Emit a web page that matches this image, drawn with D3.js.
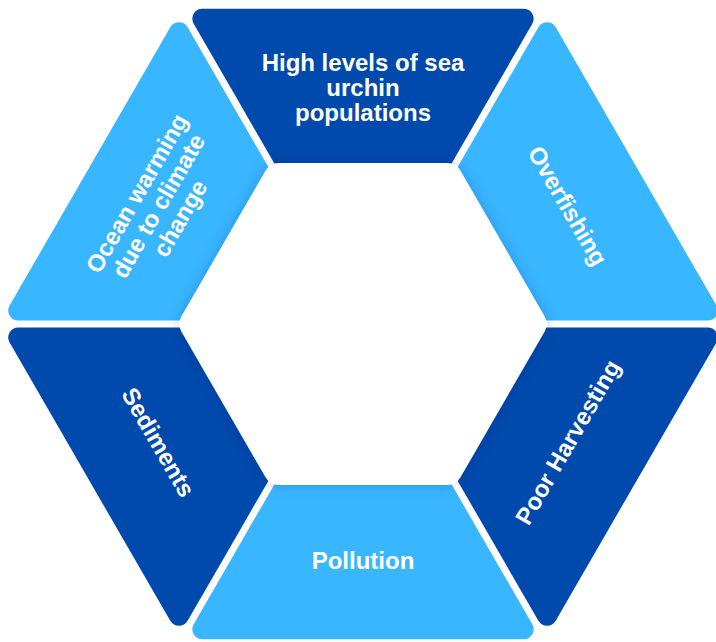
<!DOCTYPE html>
<html>
<head>
<meta charset="utf-8">
<style>
  body {
    margin: 0;
    background: #fff;
    font-family: "Liberation Sans", Arial, Helvetica, sans-serif;
  }
  .label {
    fill: #fff;
    font-size: 24px;
    font-weight: bold;
    text-anchor: middle;
  }
</style>
</head>
<body>
<script src="https://d3js.org/d3.v7.min.js"></script>
<script>

  // segments, clockwise from the top
  var labels = [
    ["High levels of sea", "urchin", "populations"],
    ["Overfishing"],
    ["Poor Harvesting"],
    ["Pollution"],
    ["Sediments"],
    ["Ocean warming", "due to climate", "change"]
  ];
  var shades = ["dark", "light", "dark", "light", "dark", "light"];
  var weights = [1, 1, 1, 1, 1, 1];

  var width = 716, height = 642;
  var cx = 363, cy = 324;
  var outerR = 356, innerR = 172, holeR = 186;
  var gap = 7, corner = 10, holeCorner = 16;
  var lineHeight = 25;

  var color = d3.scaleOrdinal()
    .domain(["dark", "light"])
    .range(["#004aad", "#38b6ff"]);

  // 0 = inner edge of the ring, 1 = outer edge
  var ring = d3.scaleLinear().domain([0, 1]).range([innerR, outerR]);

  var pie = d3.pie()
    .sort(null)
    .value(function(d) { return d; })
    .startAngle(-Math.PI / 6)
    .endAngle(2 * Math.PI - Math.PI / 6);

  var slices = pie(weights);

  function pt(a, r) {
    return [Math.sin(a) * r, -Math.cos(a) * r];
  }

  function roundedPath(pts, r) {
    var p = d3.path(), n = pts.length;
    var last = pts[n - 1], first = pts[0];
    p.moveTo((last[0] + first[0]) / 2, (last[1] + first[1]) / 2);
    for (var i = 0; i < n; i++) {
      var a = pts[i], b = pts[(i + 1) % n];
      p.arcTo(a[0], a[1], (a[0] + b[0]) / 2, (a[1] + b[1]) / 2, r);
    }
    p.closePath();
    return p.toString();
  }

  var svg = d3.select("body").append("svg")
    .attr("width", width)
    .attr("height", height);

  var defs = svg.append("defs");
  defs.append("filter")
      .attr("id", "hole-shadow")
      .attr("x", "-20%").attr("y", "-20%")
      .attr("width", "140%").attr("height", "140%")
    .append("feDropShadow")
      .attr("dx", 0)
      .attr("dy", 0)
      .attr("stdDeviation", 7)
      .attr("flood-color", "#002a66")
      .attr("flood-opacity", 0.2);

  var g = svg.append("g")
    .attr("transform", "translate(" + cx + "," + cy + ")");

  var seg = g.selectAll("g.segment")
    .data(slices)
    .enter().append("g")
      .attr("class", "segment")
      .attr("transform", function(d) {
        var off = pt((d.startAngle + d.endAngle) / 2, gap);
        return "translate(" + off[0] + "," + off[1] + ")";
      });

  seg.append("path")
    .attr("d", function(d) {
      return roundedPath([
        pt(d.startAngle, ring(1)),
        pt(d.endAngle, ring(1)),
        pt(d.endAngle, ring(0)),
        pt(d.startAngle, ring(0))
      ], corner);
    })
    .attr("fill", function(d, i) { return color(shades[i]); });

  // white hexagon in the middle
  g.append("path")
    .attr("d", roundedPath(slices.map(function(d) { return pt(d.startAngle, holeR); }), holeCorner))
    .attr("fill", "#fff")
    .attr("filter", "url(#hole-shadow)");

  var text = g.selectAll("text.label")
    .data(slices)
    .enter().append("text")
      .attr("class", "label")
      .attr("transform", function(d, i) {
        var a = (d.startAngle + d.endAngle) / 2;
        var p = pt(a, ring(0.35));
        var rot = a * 180 / Math.PI;
        if (rot > 90 && rot < 270) rot -= 180;
        return "translate(" + p[0] + "," + p[1] + ") rotate(" + rot + ")";
      });

  text.selectAll("tspan")
    .data(function(d, i) { return labels[i]; })
    .enter().append("tspan")
      .attr("x", 0)
      .attr("y", function(d, j, nodes) {
        return (j - (nodes.length - 1) / 2) * lineHeight;
      })
      .attr("dy", "0.35em")
      .text(function(d) { return d; });

</script>
</body>
</html>
